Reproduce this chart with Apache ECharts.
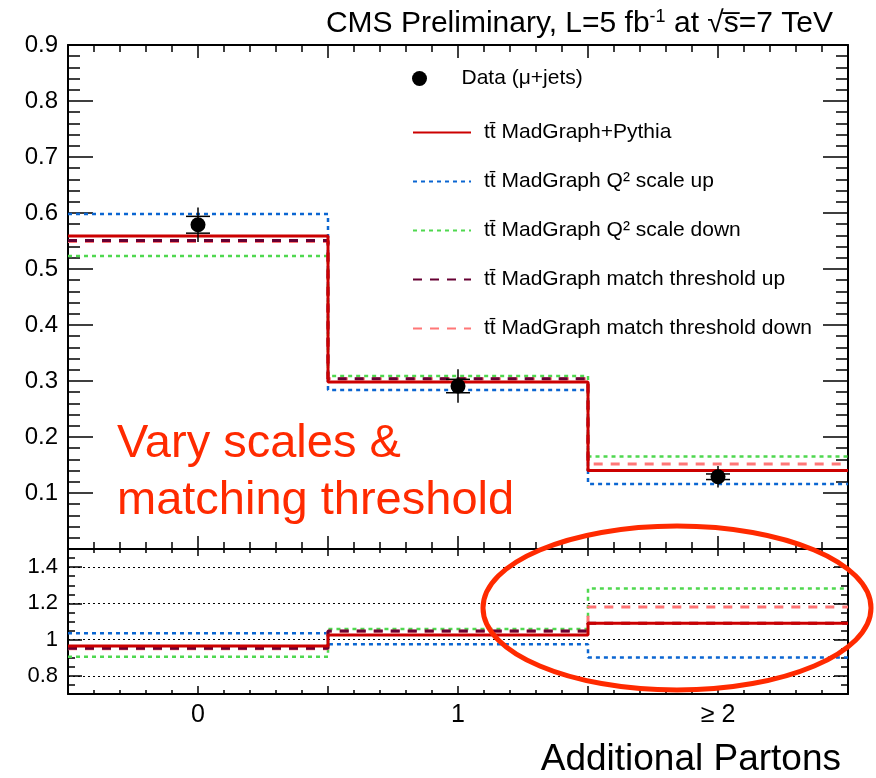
<!DOCTYPE html>
<html>
<head>
<meta charset="utf-8">
<script src="https://cdn.jsdelivr.net/npm/echarts@6/dist/echarts.min.js"></script>
<style>html,body{margin:0;padding:0;background:#fff;}#c{width:876px;height:778px;}</style>
</head>
<body>
<div id="c"></div>
<script>
// ---- data ----
const binEdges = [-0.5, 0.5, 1.5, 2.5];
const binCenters = [0, 1, 2];
const binLabels = ['0', '1', '\u2265 2'];
const yTicksTop = [0.1, 0.2, 0.3, 0.4, 0.5, 0.6, 0.7, 0.8, 0.9];
const yTicksRatio = [0.8, 1.0, 1.2, 1.4];

const dataVals = [0.579, 0.291, 0.129];
const dataErrTotal = [0.031, 0.030, 0.019];
const dataErrStat = [0.015, 0.012, 0.005];

const nominal = [0.559, 0.298, 0.140];
const scaleUp = [0.598, 0.284, 0.116];
const scaleDown = [0.523, 0.309, 0.165];
const matchUp = [0.551, 0.304, 0.140];
const matchDown = [0.549, 0.304, 0.152];

const ratioNominal = [0.965, 1.026, 1.091];
const ratioScaleUp = [1.035, 0.974, 0.902];
const ratioScaleDown = [0.906, 1.058, 1.282];
const ratioMatchUp = [0.953, 1.048, 1.090];
const ratioMatchDown = [0.950, 1.046, 1.180];

const names = {
  data: 'Data (\u03bc+jets)',
  nom: 'tt\u0304 MadGraph+Pythia',
  su: 'tt\u0304 MadGraph Q\u00b2 scale up',
  sd: 'tt\u0304 MadGraph Q\u00b2 scale down',
  mu: 'tt\u0304 MadGraph match threshold up',
  md: 'tt\u0304 MadGraph match threshold down'
};

// ---- helpers ----
function stepData(vals) {
  return binEdges.map((e, i) => [e, vals[Math.min(i, vals.length - 1)]]);
}
const FONT = 'Liberation Sans, Arial, Helvetica, sans-serif';
const styles = {
  nom: {color: '#cc0000', width: 3, type: 'solid'},
  su: {color: '#0b66d1', width: 2.5, type: [4, 4]},
  sd: {color: '#4fd84f', width: 2.5, type: [4, 4]},
  mu: {color: '#660033', width: 3, type: [9, 8]},
  md: {color: '#ff7777', width: 3, type: [9, 8]}
};
function stepSeries(key, vals, xi, yi, z, showName) {
  const s = styles[key];
  return {
    name: showName ? names[key] : undefined,
    type: 'line', step: 'end', xAxisIndex: xi, yAxisIndex: yi,
    data: stepData(vals), symbol: 'none', z: z, silent: true,
    itemStyle: {color: s.color},
    lineStyle: {color: s.color, width: s.width, type: s.type}
  };
}

const axisLine = {show: true, onZero: false, lineStyle: {color: '#000', width: 2}};

function xAxisDef(grid, pos, showLabels, majLen, minLen) {
  return {
    type: 'value', gridIndex: grid, position: pos, min: -0.5, max: 2.5, interval: 0.5,
    axisLine: axisLine,
    axisTick: {show: true, inside: true, length: majLen, lineStyle: {color: '#000', width: 1.5}},
    minorTick: {show: true, splitNumber: 5, length: minLen, lineStyle: {color: '#000', width: 1.5}},
    splitLine: {show: false},
    axisLabel: showLabels ? {
      show: true, margin: 9, color: '#000', fontSize: 25, fontFamily: FONT,
      formatter: v => { const i = binCenters.indexOf(Math.round(v * 10) / 10); return i >= 0 ? binLabels[i] : ''; }
    } : {show: false}
  };
}

const option = {
  animation: false,
  backgroundColor: '#fff',
  title: [
    {
      right: 38, top: 3,
      text: '{a|CMS Preliminary, L=5 fb}{s|-1}{a| at }{a|\u221as\u0305=7 TeV}',
      textStyle: {
        fontWeight: 'normal',
        rich: {
          a: {fontSize: 30, fontWeight: 'normal', fontFamily: FONT, color: '#000'},
          s: {fontSize: 18, fontWeight: 'normal', fontFamily: FONT, color: '#000', verticalAlign: 'top', padding: [0, 0, 13, 0]}
        }
      }
    },
    {
      text: 'Additional Partons', right: 30, top: 736,
      textStyle: {fontSize: 37, fontWeight: 'normal', fontFamily: FONT, color: '#000'}
    }
  ],
  legend: [
    {
      data: [names.data], orient: 'vertical', left: 407, top: 63,
      itemWidth: 58, itemHeight: 15, selectedMode: false,
      textStyle: {fontSize: 21, fontFamily: FONT, color: '#000', padding: [0, 0, 0, 8]}
    },
    {
      data: [names.nom, names.su, names.sd, names.mu, names.md], orient: 'vertical', left: 407, top: 117,
      itemWidth: 58, itemHeight: 14, itemGap: 28, selectedMode: false,
      itemStyle: {color: 'rgba(0,0,0,0)', borderWidth: 0, opacity: 0},
      textStyle: {fontSize: 21, fontFamily: FONT, color: '#000', padding: [0, 0, 0, 8]}
    }
  ],
  grid: [
    {left: 68, top: 45, width: 780, height: 504},
    {left: 68, top: 549, width: 780, height: 145}
  ],
  xAxis: [
    xAxisDef(0, 'bottom', false, 13, 7),
    xAxisDef(0, 'top', false, 13, 7),
    xAxisDef(1, 'bottom', true, 8, 4),
    xAxisDef(1, 'top', false, 7, 4)
  ],
  yAxis: [
    {
      type: 'value', gridIndex: 0, position: 'left', min: 0, max: 0.9, interval: 0.1,
      axisLine: axisLine,
      axisTick: {show: true, inside: true, length: 25, lineStyle: {color: '#000', width: 1.5}},
      minorTick: {show: true, splitNumber: 5, length: 12, lineStyle: {color: '#000', width: 1.5}},
      splitLine: {show: false},
      axisLabel: {
        margin: 10, color: '#000', fontSize: 24, fontFamily: FONT,
        formatter: v => { const r = Math.round(v * 10) / 10; return yTicksTop.indexOf(r) >= 0 ? r.toFixed(1) : ''; }
      }
    },
    {
      type: 'value', gridIndex: 0, position: 'right', min: 0, max: 0.9, interval: 0.1,
      axisLine: axisLine,
      axisTick: {show: true, inside: true, length: 25, lineStyle: {color: '#000', width: 1.5}},
      minorTick: {show: true, splitNumber: 5, length: 12, lineStyle: {color: '#000', width: 1.5}},
      splitLine: {show: false}, axisLabel: {show: false}
    },
    // ratio: minor ticks every 0.05
    {
      type: 'value', gridIndex: 1, position: 'left', min: 0.7, max: 1.5, interval: 0.05,
      axisLine: axisLine,
      axisTick: {show: true, inside: true, length: 7, lineStyle: {color: '#000', width: 1.5}},
      splitLine: {show: false}, axisLabel: {show: false}
    },
    {
      type: 'value', gridIndex: 1, position: 'right', min: 0.7, max: 1.5, interval: 0.05,
      axisLine: axisLine,
      axisTick: {show: true, inside: true, length: 7, lineStyle: {color: '#000', width: 1.5}},
      splitLine: {show: false}, axisLabel: {show: false}
    },
    // ratio: major ticks + labels at custom values
    {
      type: 'value', gridIndex: 1, position: 'left', min: 0.7, max: 1.5,
      axisLine: {show: false, onZero: false},
      axisTick: {show: true, inside: true, length: 14, customValues: yTicksRatio, lineStyle: {color: '#000', width: 1.5}},
      splitLine: {show: false},
      axisLabel: {
        show: true, margin: 10, color: '#000', fontSize: 22, fontFamily: FONT, customValues: yTicksRatio,
        formatter: v => String(Math.round(v * 10) / 10)
      }
    },
    {
      type: 'value', gridIndex: 1, position: 'right', min: 0.7, max: 1.5,
      axisLine: {show: false, onZero: false},
      axisTick: {show: true, inside: true, length: 14, customValues: yTicksRatio, lineStyle: {color: '#000', width: 1.5}},
      splitLine: {show: false}, axisLabel: {show: false, customValues: yTicksRatio}
    }
  ],
  series: [
    stepSeries('su', scaleUp, 0, 0, 2, true),
    stepSeries('sd', scaleDown, 0, 0, 2, true),
    stepSeries('md', matchDown, 0, 0, 3, true),
    stepSeries('mu', matchUp, 0, 0, 4, true),
    stepSeries('nom', nominal, 0, 0, 5, true),
    {
      name: names.data, type: 'scatter', xAxisIndex: 0, yAxisIndex: 0,
      data: binCenters.map((x, i) => [x, dataVals[i]]), symbol: 'circle', symbolSize: 15, z: 7,
      itemStyle: {color: '#000', opacity: 1}, silent: true
    },
    {
      type: 'custom', xAxisIndex: 0, yAxisIndex: 0, z: 6, silent: true,
      data: binCenters.map((x, i) => [x, dataVals[i], dataErrTotal[i], dataErrStat[i]]),
      renderItem: function (params, api) {
        const x = api.value(0), y = api.value(1), t = api.value(2), s = api.value(3);
        const top = api.coord([x, y + t]), bot = api.coord([x, y - t]);
        const su = api.coord([x, y + s]), sd = api.coord([x, y - s]);
        const st = {stroke: '#000', lineWidth: 1.5};
        return {type: 'group', children: [
          {type: 'line', shape: {x1: top[0], y1: top[1], x2: bot[0], y2: bot[1]}, style: st},
          {type: 'line', shape: {x1: su[0] - 12, y1: su[1], x2: su[0] + 12, y2: su[1]}, style: st},
          {type: 'line', shape: {x1: sd[0] - 12, y1: sd[1], x2: sd[0] + 12, y2: sd[1]}, style: st}
        ]};
      }
    },
    // ratio panel
    {
      type: 'line', xAxisIndex: 2, yAxisIndex: 2, data: [], symbol: 'none', silent: true,
      markLine: {
        silent: true, symbol: 'none', label: {show: false},
        lineStyle: {color: '#000', width: 1, type: [2, 3]},
        data: yTicksRatio.map(v => ({yAxis: v}))
      }
    },
    stepSeries('su', ratioScaleUp, 2, 2, 2, false),
    stepSeries('sd', ratioScaleDown, 2, 2, 2, false),
    stepSeries('md', ratioMatchDown, 2, 2, 3, false),
    stepSeries('mu', ratioMatchUp, 2, 2, 4, false),
    stepSeries('nom', ratioNominal, 2, 2, 5, false)
  ],
  graphic: [
    {
      type: 'text', left: 117, top: 416, z: 20,
      style: {text: 'Vary scales &\nmatching threshold', fill: '#ff2a00', fontSize: 47, lineHeight: 57, fontFamily: FONT}
    },
    {
      type: 'ellipse', z: 20, silent: true,
      shape: {cx: 677, cy: 608, rx: 194, ry: 82},
      style: {fill: 'none', stroke: '#ff2a00', lineWidth: 5}
    }
  ]
};

const chart = echarts.init(document.getElementById('c'), null, {renderer: 'canvas'});
chart.setOption(option);
</script>
</body>
</html>
